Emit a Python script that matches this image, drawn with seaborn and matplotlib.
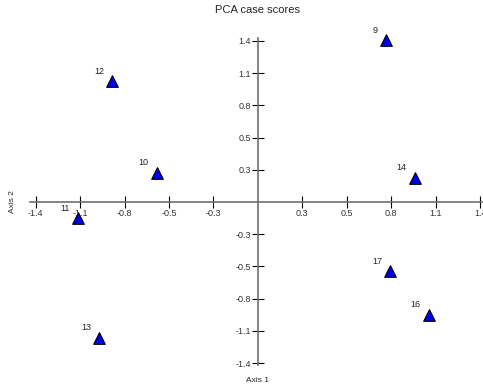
import pandas as pd
import matplotlib.pyplot as plt
import seaborn as sns

# PCA case scores
case_ids = ["9", "12", "10", "11", "14", "17", "16", "13"]
axis1 = [0.79, -0.90, -0.625, -1.11, 0.97, 0.82, 1.06, -0.98]
axis2 = [1.38, 1.03, 0.25, -0.14, 0.205, -0.59, -0.96, -1.16]

tick_pos = [-1.375, -1.1, -0.825, -0.55, -0.275, 0.275, 0.55, 0.825, 1.1, 1.375]
tick_labels = ["-1.4", "-1.1", "-0.8", "-0.5", "-0.3", "0.3", "0.5", "0.8", "1.1", "1.4"]

df = pd.DataFrame({"case": case_ids, "axis1": axis1, "axis2": axis2})

sns.set_style("white", {"xtick.bottom": True, "ytick.left": True})
plt.rcParams["font.family"] = ["Liberation Sans", "DejaVu Sans"]

fig = plt.figure(figsize=(4.83, 3.87), dpi=100)
ax = fig.add_axes([0.062, 0.057, 0.938, 0.845])

sns.scatterplot(data=df, x="axis1", y="axis2", marker="^", s=70,
                color="#0000ee", edgecolor="black", linewidth=0.8, ax=ax,
                zorder=3, clip_on=False)

for _, r in df.iterrows():
    ax.annotate(r["case"], (r["axis1"], r["axis2"]), xytext=(-6, 4),
                textcoords="offset points", ha="right", va="bottom",
                fontsize=6.5, color="#222222")

ax.set_xlim(-1.41, 1.393)
ax.set_ylim(-1.39, 1.40)

for side in ["top", "right"]:
    ax.spines[side].set_visible(False)
for side in ["left", "bottom"]:
    ax.spines[side].set_position("zero")
    ax.spines[side].set_color("#707070")
    ax.spines[side].set_linewidth(1.2)

ax.set_xticks(tick_pos)
ax.set_xticklabels(tick_labels)
ax.set_yticks(tick_pos)
ax.set_yticklabels(tick_labels)
ax.tick_params(axis="both", direction="inout", length=8, width=0.8,
               colors="black", labelsize=6.5, labelcolor="#333333", pad=1)
ax.set_xlabel("")
ax.set_ylabel("")

fig.text(0.534, 0.975, "PCA case scores", ha="center", va="center", fontsize=8)
fig.text(0.534, 0.018, "Axis 1", ha="center", va="center", fontsize=6)
fig.text(0.025, 0.478, "Axis 2", ha="center", va="center", fontsize=6, rotation=90)

fig.savefig("out.png", dpi=100)
plt.close(fig)
